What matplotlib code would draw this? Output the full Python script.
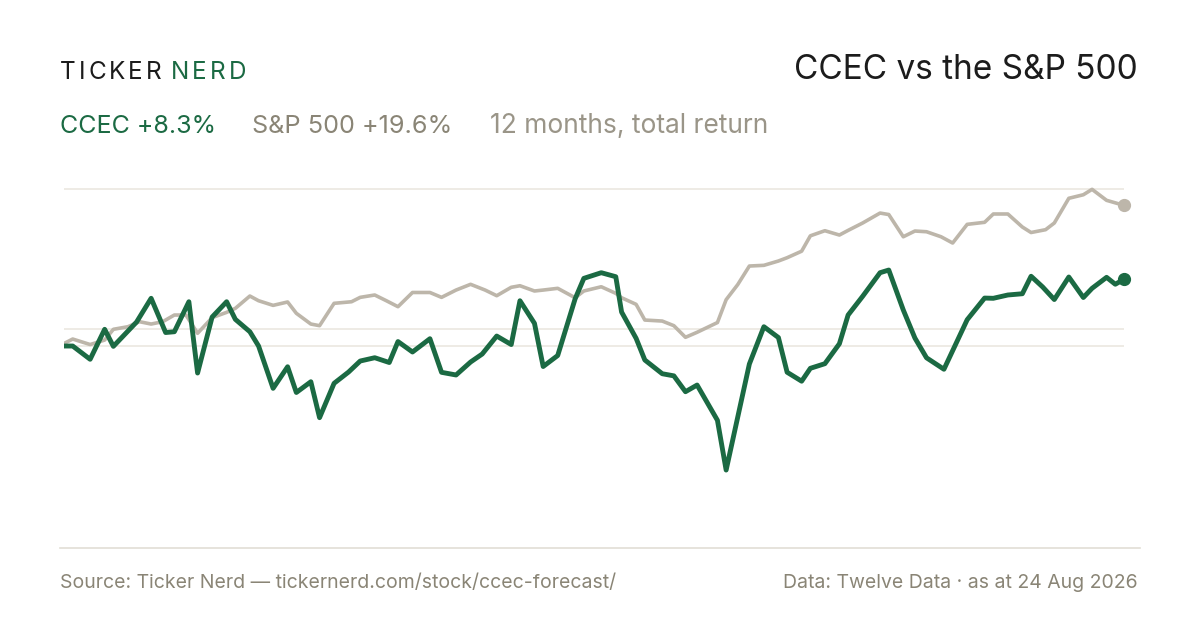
import matplotlib
matplotlib.use("Agg")
import matplotlib.pyplot as plt
from matplotlib.lines import Line2D

# ---- data: day offset within the 12-month window, total return (%) ----
ccec_day = [0, 3, 9, 14, 17, 25, 30, 35, 38, 43, 46, 51, 56, 59, 64, 67, 72, 77, 80, 85,
            88, 93, 98, 102, 107, 112, 115, 120, 126, 130, 135, 140, 144, 149, 154, 157,
            162, 165, 170, 176, 179, 185, 190, 192, 197, 200, 206, 210, 214, 218, 225, 228,
            236, 241, 246, 249, 254, 257, 262, 267, 270, 275, 281, 284, 289, 293, 297, 303,
            311, 317, 320, 325, 330, 333, 337, 341, 346, 351, 354, 359, 362, 365]
ccec_ret = [0.0, 0.0, -1.69, 2.13, -0.04, 3.06, 6.08, 1.72, 1.82, 5.64, -3.44, 3.69, 5.64,
            3.40, 1.82, 0.0, -5.39, -2.64, -5.92, -4.55, -9.13, -4.75, -3.31, -1.91, -1.49,
            -2.10, 0.57, -0.76, 0.93, -3.35, -3.69, -2.04, -1.02, 1.27, 0.19, 5.77, 2.89,
            -2.61, -1.21, 6.01, 8.62, 9.34, 8.83, 4.33, 0.98, -1.78, -3.53, -3.80, -5.82,
            -4.97, -9.46, -15.80, -2.29, 2.46, 1.08, -3.34, -4.48, -2.84, -2.25, 0.29, 3.95,
            6.33, 9.34, 9.68, 4.59, 1.02, -1.50, -2.96, 3.35, 6.11, 6.08, 6.50, 6.66, 8.89,
            7.52, 5.92, 8.79, 6.18, 7.35, 8.75, 7.87, 8.50]

spx_day = [0, 3, 9, 14, 17, 22, 26, 30, 34, 38, 42, 46, 51, 56, 59, 64, 67, 72, 77, 80,
           85, 88, 93, 99, 102, 107, 111, 115, 120, 126, 130, 135, 140, 145, 149, 154, 157,
           162, 165, 170, 176, 179, 185, 190, 192, 197, 200, 206, 210, 214, 218, 225, 228,
           232, 236, 241, 246, 249, 254, 257, 262, 267, 270, 275, 281, 284, 289, 293, 297,
           302, 306, 311, 317, 320, 325, 330, 333, 338, 341, 346, 351, 354, 359, 365]
spx_ret = [0.32, 0.89, 0.19, 0.76, 2.13, 2.46, 3.10, 2.80, 3.10, 3.95, 3.95, 1.62, 3.61,
           4.29, 4.80, 6.37, 5.77, 5.18, 5.61, 4.17, 2.80, 2.59, 5.44, 5.64, 6.20, 6.50,
           5.77, 5.01, 6.82, 6.82, 6.20, 7.13, 7.86, 7.13, 6.41, 7.48, 7.68, 7.01, 7.13,
           7.35, 6.15, 7.01, 7.55, 6.71, 6.15, 5.31, 3.31, 3.18, 2.59, 1.11, 1.75, 2.99,
           5.90, 7.83, 10.19, 10.28, 10.83, 11.25, 12.08, 14.04, 14.69, 14.14, 14.73, 15.67,
           16.94, 16.75, 13.92, 14.65, 14.56, 13.92, 13.12, 15.50, 15.76, 16.82, 16.82,
           15.16, 14.46, 14.82, 15.67, 18.82, 19.27, 19.96, 18.56, 17.92]

grid_levels = [0, 2.17, 20]

ccec_label = "CCEC +8.3%"
spx_label = "S&P 500 +19.6%"
period_label = "12 months, total return"

GREEN = "#1b6a43"
GREY_LINE = "#bdb6aa"
GREY_TEXT = "#8a8576"
GRID = "#ebe7e0"
DARK = "#1c1c1c"

plt.rcParams["font.family"] = ["Inter", "DejaVu Sans"]

W, H = 1200, 630
fig = plt.figure(figsize=(12, 6.3), dpi=100)
fig.patch.set_facecolor("white")


def fx(x):
    return x / W


def fy(y):
    return 1 - y / H


ax = fig.add_axes([fx(64), fy(548), fx(1124) - fx(64), fy(180) - fy(548)])
ax.set_xlim(0, 365)
ax.set_ylim(-25.73, 21.15)
ax.axis("off")

for g in grid_levels:
    ax.axhline(g, color=GRID, lw=1.2, zorder=1)

ax.plot(spx_day, spx_ret, color=GREY_LINE, lw=2.6, zorder=2)
ax.plot(ccec_day, ccec_ret, color=GREEN, lw=3.5, zorder=3)
ax.plot(spx_day[-1], spx_ret[-1], "o", color=GREY_LINE, ms=8.5, clip_on=False, zorder=4)
ax.plot(ccec_day[-1], ccec_ret[-1], "o", color=GREEN, ms=8.5, clip_on=False, zorder=4)

# bottom rule
fig.add_artist(Line2D([fx(60), fx(1140)], [fy(548), fy(548)], color="#e2ded5", lw=1.2))

renderer = fig.canvas.get_renderer()


def tracked(x, y, s, color, size, track):
    for ch in s:
        t = fig.text(fx(x), fy(y), ch, color=color, fontsize=size, va="baseline",
                     ha="left")
        x += t.get_window_extent(renderer).width + track
    return x


# brand
tracked(60, 79, "TICKER", DARK, 17.5, 3.0)
tracked(171, 79, "NERD", GREEN, 17.5, 3.0)

# title
fig.text(fx(1138), fy(79), "CCEC vs the S&P 500", color=DARK, fontsize=24,
         ha="right", va="baseline")

# subtitle
fig.text(fx(60), fy(133), ccec_label, color=GREEN, fontsize=18, va="baseline")
fig.text(fx(252), fy(133), spx_label, color=GREY_TEXT, fontsize=18.2, va="baseline")
fig.text(fx(490), fy(133), period_label, color="#9a9588", fontsize=19, va="baseline")

# footer
fig.text(fx(60), fy(588), "Source: Ticker Nerd \u2014 tickernerd.com/stock/ccec-forecast/",
         color=GREY_TEXT, fontsize=14, va="baseline")
fig.text(fx(1138), fy(588), "Data: Twelve Data \u00b7 as at 24 Aug 2026",
         color=GREY_TEXT, fontsize=14, ha="right", va="baseline")

fig.savefig("out.png", dpi=100, facecolor="white")
